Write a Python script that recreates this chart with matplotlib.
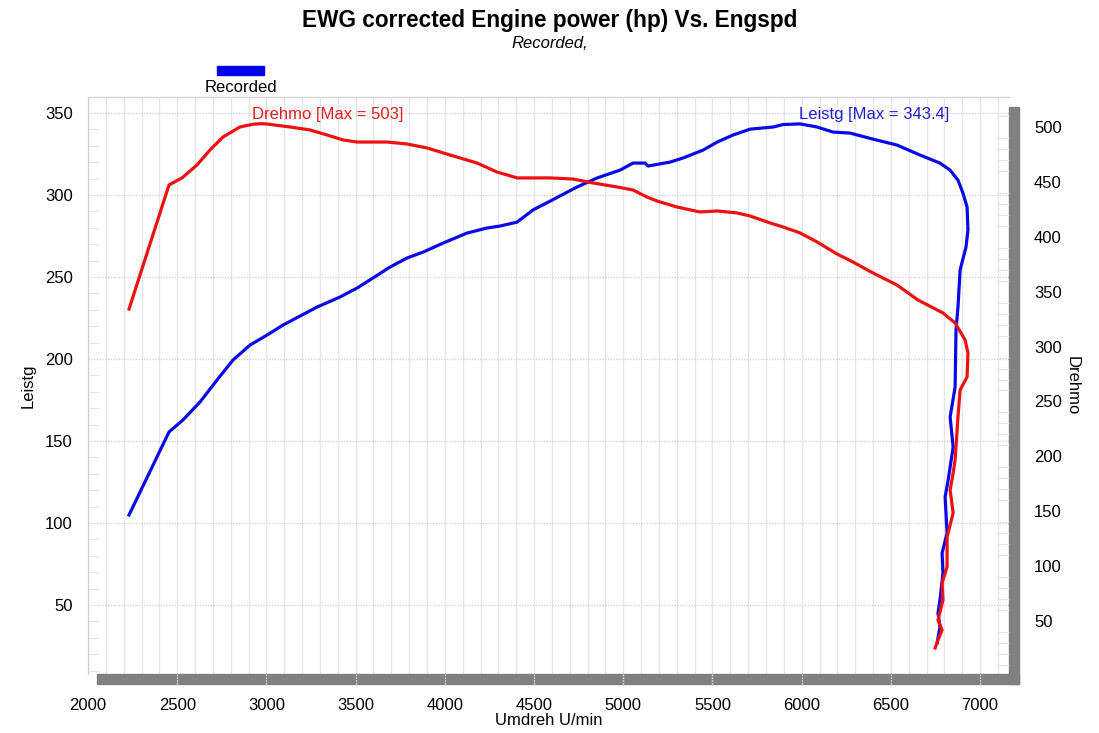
import matplotlib
matplotlib.use("Agg")
import matplotlib.pyplot as plt
import matplotlib.transforms as mtransforms
from matplotlib.patches import Rectangle
import numpy as np

plt.rcParams['font.family'] = ['Liberation Sans', 'DejaVu Sans']

# Leistg (hp), left axis
leistg_rpm = [2230, 2454, 2532, 2628, 2723, 2813, 2908, 3003, 3093, 3188, 3284, 3412,
              3508, 3597, 3693, 3788, 3878, 3990, 4124, 4236, 4309, 4405, 4494, 4590,
              4741, 4853, 4982, 5055, 5122, 5139, 5262, 5335, 5447, 5526, 5615, 5711,
              5840, 5896, 5991, 6086, 6176, 6271, 6400, 6534, 6663, 6775, 6832, 6876,
              6904, 6927, 6932, 6921, 6888, 6876, 6865, 6860, 6832, 6849, 6821, 6804,
              6815, 6787, 6792, 6775, 6764, 6775, 6759]
leistg = [104.9, 155.5, 162.8, 173.8, 187.2, 199.4, 208.5, 214.6, 220.7, 226.2, 231.7, 237.8,
          243.3, 249.4, 256.1, 261.6, 265.2, 270.7, 276.8, 279.9, 281.1, 283.5, 290.9, 296.3,
          304.9, 310.4, 315.2, 319.5, 319.5, 317.7, 320.1, 322.6, 327.4, 332.3, 336.6, 340.2,
          341.5, 343.0, 343.4, 341.5, 338.4, 337.8, 334.1, 330.5, 324.4, 319.5, 315.2, 309.1,
          301.2, 292.7, 278.7, 268.3, 254.3, 231.7, 217.7, 182.9, 164.6, 146.3, 126.2, 115.9,
          93.9, 81.7, 69.5, 53.0, 45.1, 36.6, 26.8]

# Drehmo (Nm), right axis
drehmo_rpm = [2230, 2454, 2527, 2611, 2684, 2757, 2852, 2925, 2970, 3003, 3132, 3244, 3340,
              3429, 3508, 3676, 3788, 3900, 4029, 4180, 4292, 4405, 4590, 4718, 4831,
              4965, 5055, 5133, 5189, 5301, 5430, 5526, 5638, 5711, 5823, 5896, 5991,
              6086, 6198, 6288, 6400, 6534, 6652, 6792, 6860, 6916, 6932, 6927, 6888,
              6876, 6860, 6849, 6832, 6849, 6815, 6815, 6787, 6792, 6764, 6787, 6764, 6748]
drehmo = [334.2, 447.2, 453.6, 465.4, 479.1, 490.9, 500.0, 502.5, 503.0, 502.7, 500.0, 497.3, 492.7,
          488.2, 486.3, 486.3, 484.5, 480.9, 474.5, 467.2, 459.0, 453.6, 453.6, 452.6, 449.0,
          445.4, 442.6, 436.2, 432.6, 427.1, 422.6, 423.5, 421.7, 418.9, 412.6, 408.9, 403.5,
          395.3, 384.3, 377.0, 367.0, 356.1, 342.4, 330.6, 321.5, 306.0, 294.2, 272.3, 260.5,
          235.9, 196.7, 184.9, 169.4, 148.5, 126.6, 99.3, 84.7, 69.2, 51.0, 41.9, 32.8, 25.5]

x_ticks = [2000, 2500, 3000, 3500, 4000, 4500, 5000, 5500, 6000, 6500, 7000]
left_ticks = [50, 100, 150, 200, 250, 300, 350]
right_ticks = [50, 100, 150, 200, 250, 300, 350, 400, 450, 500]

W, H = 1099, 733
fig = plt.figure(figsize=(W / 100, H / 100), dpi=100)
ax = fig.add_axes([88 / W, 1 - 674 / H, (1009 - 88) / W, (674 - 97) / H])
ax2 = ax.twinx()

ax.set_xlim(2000, 7162)
ax.set_ylim(7.9, 359.8)
ax2.set_ylim(1.8, 527.3)

# grid
ax.set_xticks(np.arange(2000, 7200, 100), minor=True)
ax.grid(True, which='minor', axis='x', color='#e6e6e6', lw=1)
ax.grid(True, which='major', axis='x', color='#e6e6e6', lw=1)
ax.grid(True, which='major', axis='y', color='#d4d4d4', lw=1, ls=(0, (1, 1)))
ax.set_axisbelow(True)

ax.plot(leistg_rpm, leistg, color='#0a0ae6', lw=2.3, solid_joinstyle='round')
ax2.plot(drehmo_rpm, drehmo, color='#ee1111', lw=2.3, solid_joinstyle='round')

ax.set_xticks(x_ticks)
ax.set_yticks(left_ticks)
ax2.set_yticks(right_ticks)
ax.set_yticks(np.arange(10, 360, 10), minor=True)
ax2.set_yticks(np.arange(10, 520, 10), minor=True)
ax.tick_params(axis='x', which='both', length=0, pad=17, labelsize=12)
ax.tick_params(axis='y', which='major', length=0, pad=11, labelsize=12)
ax.tick_params(axis='y', which='minor', direction='in', length=8, color='#e0e0e0')
ax2.tick_params(axis='y', which='major', length=0, pad=18, labelsize=12)
ax2.tick_params(axis='y', which='minor', direction='in', length=8, color='#e0e0e0')

for a in (ax, ax2):
    for s in a.spines.values():
        s.set_color('#d0d0d0')
    a.spines['right'].set_visible(False)
    a.spines['bottom'].set_visible(False)

# 3D style shadow bars
aw, ah = 1009 - 88, 674 - 97
sh = '#808080'
ax.add_patch(Rectangle((1, -10 / ah), 10 / aw, 1, transform=ax.transAxes,
                       color=sh, clip_on=False, zorder=5))
ax.add_patch(Rectangle((9 / aw, -10 / ah), 1 + 1 / aw, 10 / ah, transform=ax.transAxes,
                       color=sh, clip_on=False, zorder=5))
bt = mtransforms.blended_transform_factory(ax.transData, ax.transAxes)
for xt in x_ticks[1:]:
    ax.plot([xt, xt], [-10 / ah, 0], transform=bt, color='#e8e8e8', lw=1,
            ls=(0, (1, 1)), clip_on=False, zorder=6)

ax.set_xlabel('Umdreh U/min', fontsize=12, labelpad=0)
ax.set_ylabel('Leistg', fontsize=12, labelpad=7)
ax2.set_ylabel('Drehmo', fontsize=12, rotation=-90, labelpad=13)

# max labels at the peaks
i_d = int(np.argmax(drehmo))
i_l = int(np.argmax(leistg))
ax.text(drehmo_rpm[i_d] - 50, 349.4, 'Drehmo [Max = %g]' % max(drehmo),
        color='#e02020', fontsize=12, va='center', ha='left')
ax.text(leistg_rpm[i_l] - 5, 349.4, 'Leistg [Max = %g]' % max(leistg),
        color='#2020d0', fontsize=12, va='center', ha='left')

fig.text(0.5, 1 - 20 / H, 'EWG corrected Engine power (hp) Vs. Engspd',
         ha='center', va='center', fontsize=16.3, fontweight='bold')
fig.text(0.5, 1 - 44 / H, 'Recorded,', ha='center', va='center',
         fontsize=12, style='italic')

fig.patches.append(Rectangle((217 / W, 1 - 75 / H), 47 / W, 9 / H,
                             transform=fig.transFigure, color='#0000ee'))
fig.text(241 / W, 1 - 88 / H, 'Recorded', ha='center', va='center', fontsize=12)

fig.savefig('out.png', dpi=100)
